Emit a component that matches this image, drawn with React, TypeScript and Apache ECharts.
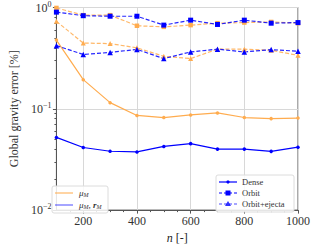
import React, { useEffect, useRef } from "react";
import * as echarts from "echarts";

const nValues = [100, 200, 300, 400, 500, 600, 700, 800, 900, 1000];
const muDense = [0.477, 0.194, 0.115, 0.086, 0.082, 0.087, 0.091, 0.082, 0.08, 0.081];
const muOrbit = [0.99, 0.84, 0.84, 0.66, 0.644, 0.67, 0.7, 0.71, 0.72, 0.7];
const muEjecta = [0.73, 0.446, 0.44, 0.4, 0.33, 0.313, 0.388, 0.388, 0.378, 0.337];
const murDense = [0.0522, 0.0415, 0.0381, 0.0375, 0.0425, 0.0453, 0.04, 0.04, 0.038, 0.0418];
const murOrbit = [0.9, 0.83, 0.82, 0.82, 0.67, 0.75, 0.68, 0.75, 0.7, 0.71];
const murEjecta = [0.42, 0.344, 0.36, 0.386, 0.313, 0.364, 0.388, 0.364, 0.384, 0.37];

const xMajor = [200, 400, 600, 800, 1000];
const xMinor = [150, 250, 300, 350, 450, 500, 550, 650, 700, 750, 850, 900, 950];
const yMinor = [0.02, 0.03, 0.04, 0.05, 0.06, 0.07, 0.08, 0.09, 0.2, 0.3, 0.4, 0.5, 0.6, 0.7, 0.8, 0.9];

const ORANGE = "#ffac4f";
const BLUE = "#0000ff";
const FONT = "Liberation Serif";

export default function App() {
  const ref = useRef<HTMLDivElement>(null);
  useEffect(() => {
    if (!ref.current) return;
    const chart = echarts.init(ref.current, null, { renderer: "svg" });
    const mk = (arr: number[]) => nValues.map((n, i) => [n, arr[i]]);
    const line = (
      name: string,
      arr: number[],
      color: string,
      dashed: boolean,
      symbol: string,
      size: number
    ) => ({
      name,
      type: "line",
      data: mk(arr),
      xAxisIndex: 0,
      yAxisIndex: 0,
      symbol,
      symbolSize: size,
      itemStyle: { color },
      lineStyle: { color, width: 1.2, type: dashed ? [4, 2] : "solid", opacity: dashed ? 0.85 : 1 },
      z: 3,
    });
    chart.setOption({
      animation: false,
      grid: {
        left: 48,
        right: 16,
        top: 4,
        bottom: 33,
        show: true,
        borderColor: "#555",
        borderWidth: 1,
      },
      xAxis: [
        {
          type: "value",
          min: 100,
          max: 1000,
          name: "{i|n} [-]",
          nameLocation: "middle",
          nameGap: 18,
          nameTextStyle: {
            fontFamily: FONT,
            fontSize: 12,
            color: "#222",
            rich: { i: { fontStyle: "italic", fontFamily: FONT, fontSize: 12 } },
          },
          axisLine: { show: true, lineStyle: { color: "#555" } },
          axisTick: { show: true, length: 3.5, customValues: xMajor, lineStyle: { color: "#555" } },
          axisLabel: {
            customValues: xMajor,
            formatter: (v: number) => String(v),
            fontFamily: FONT,
            fontSize: 12,
            color: "#333",
            margin: 5,
          },
          splitLine: { show: true, lineStyle: { color: "#d8d8d8", width: 1 } },
        },
        {
          type: "value",
          min: 100,
          max: 1000,
          position: "bottom",
          axisLine: { show: false },
          axisTick: { show: true, length: 2, customValues: xMinor, lineStyle: { color: "#555" } },
          axisLabel: { show: false },
          splitLine: { show: false },
        },
      ],
      yAxis: [
        {
          type: "log",
          logBase: 10,
          min: 0.01,
          max: 1,
          name: "Global gravity error [%]",
          nameLocation: "middle",
          nameGap: 33,
          nameTextStyle: { fontFamily: FONT, fontSize: 12, color: "#333" },
          axisLine: { show: true, lineStyle: { color: "#555" } },
          axisTick: { show: true, length: 3.5, lineStyle: { color: "#555" } },
          axisLabel: {
            fontFamily: FONT,
            color: "#333",
            margin: 5,
            formatter: (v: number) => {
              const e = Math.round(Math.log10(v));
              return `{b|10}{s|${e === 0 ? "0" : "\u2212" + -e}}`;
            },
            rich: {
              b: { fontFamily: FONT, fontSize: 12, color: "#333" },
              s: { fontFamily: FONT, fontSize: 8, color: "#333", padding: [0, 0, 7, 0] },
            },
          },
          splitLine: { show: true, lineStyle: { color: "#d8d8d8", width: 1 } },
        },
        {
          type: "log",
          logBase: 10,
          min: 0.01,
          max: 1,
          position: "left",
          axisLine: { show: false },
          axisTick: { show: true, length: 2, customValues: yMinor, lineStyle: { color: "#555" } },
          axisLabel: { show: false },
          splitLine: { show: false },
        },
      ],
      series: [
        line("mu Dense", muDense, ORANGE, false, "circle", 3.5),
        line("mu Orbit", muOrbit, ORANGE, true, "rect", 4.5),
        line("mu Orbit+ejecta", muEjecta, ORANGE, true, "triangle", 5),
        line("mur Dense", murDense, BLUE, false, "circle", 3.5),
        line("mur Orbit", murOrbit, BLUE, true, "rect", 5),
        line("mur Orbit+ejecta", murEjecta, BLUE, true, "triangle", 5.5),
      ],
      graphic: [
        {
          type: "rect",
          shape: { x: 52, y: 186, width: 56, height: 27, r: 2 },
          style: { fill: "rgba(255,255,255,0.85)", stroke: "#dcdcdc", lineWidth: 1 },
          z: 10,
        },
        {
          type: "line",
          shape: { x1: 55, y1: 193, x2: 73, y2: 193 },
          style: { stroke: ORANGE, lineWidth: 1.3, opacity: 0.8 },
          z: 11,
        },
        {
          type: "line",
          shape: { x1: 55, y1: 205, x2: 73, y2: 205 },
          style: { stroke: BLUE, lineWidth: 1.3, opacity: 0.55 },
          z: 11,
        },
        {
          type: "text",
          x: 79,
          y: 193,
          style: {
            text: "{m|μ}{sub|M}",
            verticalAlign: "middle",
            fill: "#333",
            rich: {
              m: { fontFamily: FONT, fontStyle: "italic", fontSize: 9, fill: "#333" },
              sub: { fontFamily: FONT, fontStyle: "italic", fontSize: 6, fill: "#333", padding: [3, 0, 0, 0] },
            },
          },
          z: 11,
        },
        {
          type: "text",
          x: 79,
          y: 205,
          style: {
            text: "{m|μ}{sub|M}{m|, }{r|r}{sub|M}",
            verticalAlign: "middle",
            fill: "#333",
            rich: {
              m: { fontFamily: FONT, fontStyle: "italic", fontSize: 9, fill: "#333" },
              r: { fontFamily: FONT, fontStyle: "italic", fontWeight: "bold", fontSize: 9, fill: "#333" },
              sub: { fontFamily: FONT, fontStyle: "italic", fontSize: 6, fill: "#333", padding: [3, 0, 0, 0] },
            },
          },
          z: 11,
        },
        {
          type: "rect",
          shape: { x: 216, y: 175, width: 78, height: 37, r: 2 },
          style: { fill: "rgba(255,255,255,0.85)", stroke: "#dcdcdc", lineWidth: 1 },
          z: 10,
        },
        {
          type: "line",
          shape: { x1: 219, y1: 182, x2: 237, y2: 182 },
          style: { stroke: BLUE, lineWidth: 1.2 },
          z: 11,
        },
        {
          type: "circle",
          shape: { cx: 228, cy: 182, r: 1.6 },
          style: { fill: BLUE },
          z: 11,
        },
        {
          type: "line",
          shape: { x1: 219, y1: 193, x2: 237, y2: 193 },
          style: { stroke: BLUE, lineWidth: 1.2, lineDash: [3, 2] },
          z: 11,
        },
        {
          type: "rect",
          shape: { x: 225.5, y: 190.5, width: 5, height: 5 },
          style: { fill: BLUE },
          z: 11,
        },
        {
          type: "line",
          shape: { x1: 219, y1: 204, x2: 237, y2: 204 },
          style: { stroke: BLUE, lineWidth: 1.2, lineDash: [3, 2], opacity: 0.7 },
          z: 11,
        },
        {
          type: "polygon",
          shape: { points: [[228, 201], [231, 206], [225, 206]] },
          style: { fill: BLUE, opacity: 0.8 },
          z: 11,
        },
        {
          type: "text",
          x: 242,
          y: 182,
          style: { text: "Dense", fontFamily: FONT, fontSize: 8.5, fill: "#333", verticalAlign: "middle" },
          z: 11,
        },
        {
          type: "text",
          x: 242,
          y: 193,
          style: { text: "Orbit", fontFamily: FONT, fontSize: 8.5, fill: "#333", verticalAlign: "middle" },
          z: 11,
        },
        {
          type: "text",
          x: 242,
          y: 204,
          style: { text: "Orbit+ejecta", fontFamily: FONT, fontSize: 8.5, fill: "#333", verticalAlign: "middle" },
          z: 11,
        },
      ],
    });
    return () => chart.dispose();
  }, []);
  return <div ref={ref} style={{ width: 314, height: 249, position: "absolute", left: 0, top: 0 }} />;
}
